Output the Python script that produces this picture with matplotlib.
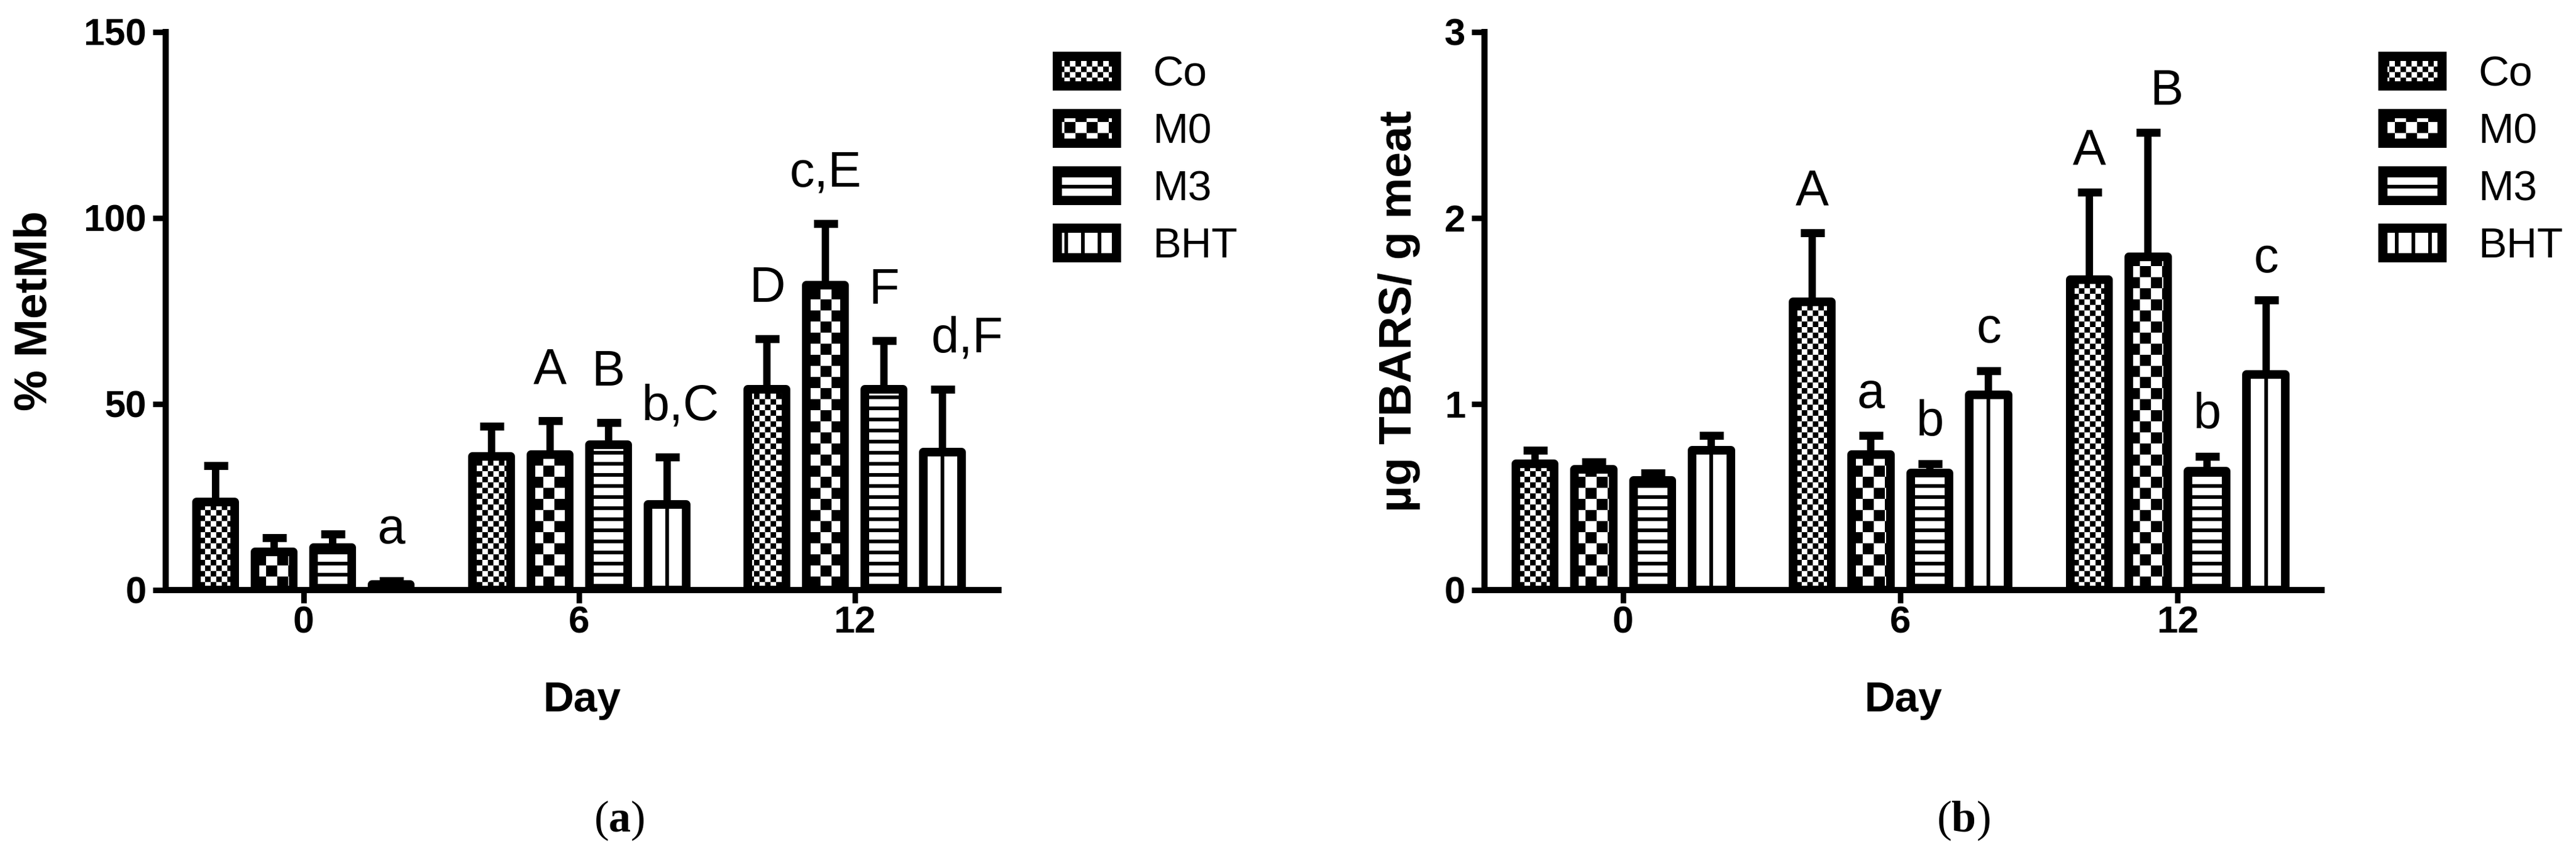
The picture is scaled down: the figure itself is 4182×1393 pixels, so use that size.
import numpy as np
import matplotlib
matplotlib.use('Agg')
import matplotlib.pyplot as plt
import matplotlib.hatch as mhatch
from matplotlib.path import Path
from matplotlib.patches import Patch

days = ['0', '6', '12']
groups = ['Co', 'M0', 'M3', 'BHT']

# (a) % MetMb, one row per treatment (Co, M0, M3, BHT), columns = day 0, 6, 12
metmb_mean = [[23.7, 36, 54], [10.3, 36.5, 82], [11.5, 39, 54], [1.5, 23, 37]]
metmb_sd = [[9.7, 8, 13.5], [3.8, 9, 16.5], [3.5, 6, 13], [1.0, 12.7, 17]]
metmb_letters = [['', '', 'D'], ['', 'A', 'c,E'], ['', 'B', 'F'], ['a', 'b,C', 'd,F']]

# (b) ug TBARS / g meat
tbars_mean = [[0.68, 1.55, 1.67], [0.65, 0.73, 1.79], [0.59, 0.63, 0.64], [0.75, 1.05, 1.16]]
tbars_sd = [[0.07, 0.37, 0.47], [0.04, 0.10, 0.67], [0.04, 0.05, 0.08], [0.08, 0.13, 0.40]]
tbars_letters = [['', 'A', 'A'], ['', 'a', 'B'], ['', 'b', 'b'], ['', 'c', 'c']]


# GraphPad style fills: checkerboards and solid stripes as filled hatch shapes
class Checker(mhatch.HatchPatternBase):
    key = '.'

    def __init__(self, hatch, density):
        n = 2 * hatch.count(self.key)
        self.size = 1.0 / n if n else 0.0
        self.cells = [(i, j) for i in range(n) for j in range(n) if (i + j) % 2 == 0]
        self.num_vertices = 5 * len(self.cells)

    def set_vertices_and_codes(self, vertices, codes):
        s = self.size
        for k, (i, j) in enumerate(self.cells):
            x0, y0 = i * s, j * s
            vertices[5 * k:5 * k + 5] = [(x0, y0), (x0 + s, y0), (x0 + s, y0 + s), (x0, y0 + s), (x0, y0)]
            codes[5 * k:5 * k + 5] = [Path.MOVETO, Path.LINETO, Path.LINETO, Path.LINETO, Path.CLOSEPOLY]


class CoarseChecker(Checker):
    key = 'o'


class Stripes(mhatch.HatchPatternBase):
    key = '-'
    share = 0.33

    def __init__(self, hatch, density):
        self.n = hatch.count(self.key)
        self.num_vertices = 5 * self.n

    def set_vertices_and_codes(self, vertices, codes):
        for k in range(self.n):
            a = k / self.n
            b = a + self.share / self.n
            pts = [(0, a), (1, a), (1, b), (0, b), (0, a)]
            if self.key == '|':
                pts = [(y, x) for x, y in pts]
            vertices[5 * k:5 * k + 5] = pts
            codes[5 * k:5 * k + 5] = [Path.MOVETO, Path.LINETO, Path.LINETO, Path.LINETO, Path.CLOSEPOLY]


class VStripes(Stripes):
    key = '|'
    share = 0.22


mhatch._hatch_types[:] = [Stripes, VStripes, Checker, CoarseChecker]

plt.rcParams['font.family'] = ['Liberation Sans', 'DejaVu Sans']
plt.rcParams['hatch.linewidth'] = 0.0
plt.rcParams['mathtext.fontset'] = 'custom'
plt.rcParams['mathtext.rm'] = 'Liberation Serif'
plt.rcParams['mathtext.bf'] = 'Liberation Serif:bold'

DPI = 108
hatches = ['......', 'ooo', '------', None]
legend_hatches = ['......', 'ooo', '------', '||||']
bar_pitch = 0.2123
bar_w = 0.1385
offsets = (np.arange(4) - 1.5) * bar_pitch

fig = plt.figure(figsize=(4182 / DPI, 1393 / DPI), dpi=DPI)
ax_a = fig.add_axes([0.0643, 0.3123, 0.3232, 0.6504])
ax_b = fig.add_axes([0.5763, 0.3123, 0.3250, 0.6504])


def draw_panel(ax, means, sds, letters, ymax, yticks, ylabel, gap, nudge, ylabel_x):
    x = np.arange(len(days))
    for i in range(len(groups)):
        xs = x + offsets[i]
        ax.bar(xs, means[i], width=bar_w, facecolor='white', edgecolor='black',
               linewidth=9.3, hatch=hatches[i], joinstyle='round', zorder=2)
        if hatches[i] is None:
            ax.vlines(xs, 0, means[i], colors='black', linewidth=4, zorder=2.5)
        ax.errorbar(xs, means[i], yerr=[np.zeros(len(days)), sds[i]], fmt='none',
                    ecolor='black', elinewidth=8, capsize=13, capthick=8.7, zorder=3)
        for j, lab in enumerate(letters[i]):
            if lab:
                ax.text(xs[j] + nudge.get(lab, 0), means[i][j] + sds[i][j] + gap, lab,
                        ha='center', va='baseline', fontsize=54)

    ax.set_xlim(-0.5, 2.52)
    ax.set_ylim(0, ymax)
    ax.set_xticks(x, days)
    ax.set_yticks(yticks)
    for s in ['top', 'right']:
        ax.spines[s].set_visible(False)
    for s in ['left', 'bottom']:
        ax.spines[s].set_linewidth(6.7)
    ax.tick_params(axis='both', direction='out', length=14, width=6, labelsize=41)
    ax.tick_params(axis='x', pad=3)
    ax.tick_params(axis='y', pad=6.7)
    for t in ax.get_xticklabels() + ax.get_yticklabels():
        t.set_fontweight('bold')

    ax.set_ylabel(ylabel, fontsize=50, fontweight='bold')
    ax.yaxis.set_label_coords(ylabel_x, 0.5)
    ax.yaxis.label.set_va('center')
    ax.set_xlabel('Day', fontsize=46, fontweight='bold')
    ax.xaxis.set_label_coords(0.5, -0.2174)
    ax.xaxis.label.set_va('baseline')


draw_panel(ax_a, metmb_mean, metmb_sd, metmb_letters, 150, [0, 50, 100, 150],
           '% MetMb', 10, {'b,C': 0.05, 'd,F': 0.09}, -0.1577)
draw_panel(ax_b, tbars_mean, tbars_sd, tbars_letters, 3, [0, 1, 2, 3],
           'µg TBARS/ g meat', 0.15, {'B': 0.067}, -0.1023)

handles = [Patch(facecolor='white', edgecolor='black', hatch=h, linewidth=10, joinstyle='round')
           for h in legend_hatches]
for lx in [0.4103, 0.9249]:
    fig.legend(handles, groups, loc='upper left', bbox_to_anchor=(lx, 0.936),
               frameon=False, fontsize=46, borderpad=0, borderaxespad=0,
               handlelength=1.39, handleheight=0.7, handletextpad=0.87, labelspacing=0.42)

fig.text(1005 / 4182, 1 - 1332 / 1393, r'($\mathbf{a}$)', ha='center', va='center',
         fontsize=48, family='Liberation Serif')
fig.text(3187 / 4182, 1 - 1332 / 1393, r'($\mathbf{b}$)', ha='center', va='center',
         fontsize=48, family='Liberation Serif')

fig.savefig('out.png', dpi=DPI, facecolor='white')
